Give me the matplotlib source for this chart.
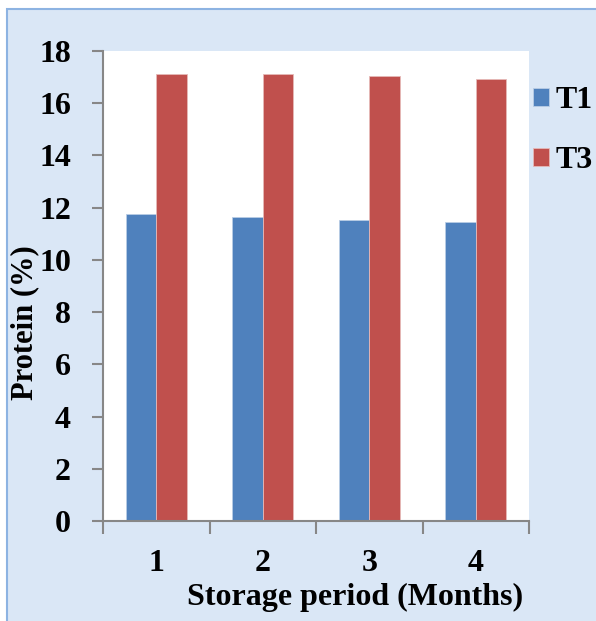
import matplotlib
matplotlib.use("Agg")
import matplotlib.pyplot as plt
from matplotlib.patches import Rectangle
import numpy as np

months = ["1", "2", "3", "4"]
t1 = [11.75, 11.64, 11.52, 11.44]
t3 = [17.12, 17.10, 17.03, 16.92]
series_names = ["T1", "T3"]
yticks = [0, 2, 4, 6, 8, 10, 12, 14, 16, 18]

W, H = 596, 621
fig = plt.figure(figsize=(W / 100, H / 100), dpi=100)
fig.patch.set_facecolor("white")

# light blue panel behind the chart (runs off the right and bottom edges)
bg = Rectangle((7 / W, -0.05), 1.1, 1.05 - 9 / H, transform=fig.transFigure,
               facecolor="#dae7f6", edgecolor="#8db3e2", linewidth=1.5, zorder=-10)
fig.patches.append(bg)

ax = fig.add_axes([103 / W, (H - 521) / H, (529 - 103) / W, (521 - 51) / H])
ax.set_facecolor("white")

x = np.arange(1, len(months) + 1)
bw = 0.286
ax.bar(x - bw / 2, t1, width=bw, color="#4f81bd", edgecolor="#b9cde5",
       linewidth=0.6, label=series_names[0], zorder=2)
ax.bar(x + bw / 2, t3, width=bw, color="#c0504d", edgecolor="#e6b9b8",
       linewidth=0.6, label=series_names[1], zorder=2)

ax.set_xlim(0.5, len(months) + 0.5)
ax.set_ylim(0, 18)

FS = 23
font = dict(family="Liberation Serif", weight="bold")
grey = "#878787"
for side in ("top", "right"):
    ax.spines[side].set_visible(False)
for side in ("left", "bottom"):
    ax.spines[side].set_color(grey)
    ax.spines[side].set_linewidth(1.5)

ax.set_yticks(yticks)
ax.set_yticklabels([str(v) for v in yticks], fontsize=FS, **font)
ax.tick_params(axis="y", direction="out", length=8, width=1.5, color=grey, pad=15)

# category boundaries carry the tick marks, centres carry the labels
ax.set_xticks(np.arange(0.5, len(months) + 1, 1))
ax.set_xticklabels([])
ax.tick_params(axis="x", which="major", direction="out", length=9, width=1.5, color=grey)
ax.set_xticks(x, minor=True)
ax.set_xticklabels(months, minor=True, fontsize=FS, **font)
ax.tick_params(axis="x", which="minor", length=0, pad=20)

fig.text(355 / W, 1 - 597 / H, "Storage period (Months)", ha="center", va="center",
         fontsize=FS, **font)
fig.text(25 / W, 1 - 323 / H, "Protein (%)", ha="center", va="center", rotation=90,
         fontsize=22, **font)

leg = fig.legend(loc="upper left", bbox_to_anchor=(533 / W, 1 - 86 / H),
                 frameon=False, borderpad=0, borderaxespad=0,
                 prop=dict(family="Liberation Serif", weight="bold", size=FS),
                 handlelength=0.5, handleheight=0.5, handletextpad=0.22,
                 labelspacing=0.97)

fig.savefig("out.png", dpi=100)
